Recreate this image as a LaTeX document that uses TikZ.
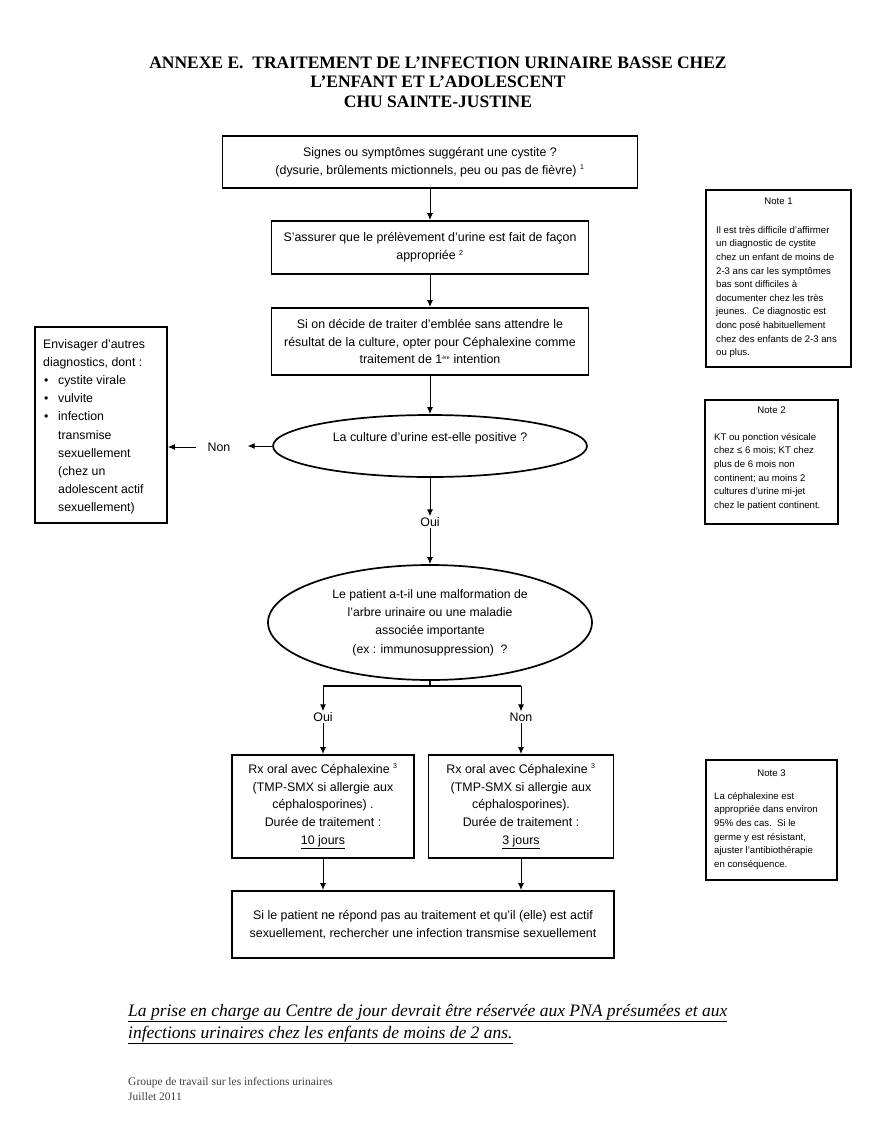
\documentclass[tikz,border=0pt]{standalone}
\usepackage{fontspec}
\setmainfont{Liberation Sans}
\newfontfamily\serifrm{Liberation Serif}
\usetikzlibrary{shapes.geometric,arrows.meta}
\tikzset{
  box/.style={draw, line width=1.9pt, align=center, inner sep=0pt, font=\fontsize{12.4}{17.8}\selectfont},
  note/.style={draw, line width=1.7pt, inner sep=0pt},
  notetxt/.style={align=left, inner sep=0pt, font=\fontsize{9.6}{13.6}\selectfont},
  oval/.style={draw, ellipse, line width=1.7pt, align=center, inner sep=0pt, font=\fontsize{12.2}{18.3}\selectfont},
  arr/.style={line width=1pt, -{Latex[length=7pt,width=6pt]}},
  ln/.style={line width=1.3pt},
  lbl/.style={font=\fontsize{12.4}{14}\selectfont, inner sep=1pt}
}
\begin{document}
\begin{tikzpicture}[x=1pt,y=-1pt]
\useasboundingbox (0,0) rectangle (888,1125);
% title
\node[font=\serifrm\bfseries\fontsize{17.5}{19.6}\selectfont, align=center] (title) at (438,82)
 {ANNEXE E.\ \ TRAITEMENT DE L’INFECTION URINAIRE BASSE CHEZ\\L’ENFANT ET L’ADOLESCENT\\CHU SAINTE-JUSTINE};
% boxes
\node[box, minimum width=415, minimum height=52] (b1) at (430,162)
 {Signes ou symptômes suggérant une cystite ?\\(dysurie, brûlements mictionnels, peu ou pas de fièvre) \textsuperscript{\scriptsize 1}};
\node[box, minimum width=317, minimum height=53] (b2) at (430,247.5)
 {S’assurer que le prélèvement d’urine est fait de façon\\appropriée \textsuperscript{\scriptsize 2}};
\node[box, minimum width=317, minimum height=67] (b3) at (430,341.5)
 {Si on décide de traiter d’emblée sans attendre le\\résultat de la culture, opter pour Céphalexine comme\\traitement de 1\textsuperscript{\tiny ère} intention};
\node[oval, minimum width=314, minimum height=62] (e1) at (430,446) {};
\node[lbl] (e1t) at (430,438) {La culture d’urine est-elle positive ?};
\node[lbl] (non1) at (219,447) {Non};
\node[draw, line width=1.7pt, inner sep=0pt, minimum width=132, minimum height=196] (left) at (101,425) {};
\node[anchor=north west, align=left, inner sep=0pt, font=\fontsize{12.3}{18.2}\selectfont] (lefttxt) at (43,339)
 {Envisager d’autres\\diagnostics, dont :\\
 \makebox[15pt][l]{\hspace{1pt}\textbullet}cystite virale\\
 \makebox[15pt][l]{\hspace{1pt}\textbullet}vulvite\\
 \makebox[15pt][l]{\hspace{1pt}\textbullet}infection\\
 \hspace*{15pt}transmise\\
 \hspace*{15pt}sexuellement\\
 \hspace*{15pt}(chez un\\
 \hspace*{15pt}adolescent actif\\
 \hspace*{15pt}sexuellement)};
\node[lbl] (oui1) at (430,522) {Oui};
\node[oval, minimum width=324, minimum height=115] (e2) at (430,622.5)
 {Le patient a-t-il une malformation de\\l’arbre urinaire ou une maladie\\associée importante\\(ex : immunosuppression)\ \ ?};
\coordinate (split) at (430,686);
\coordinate (sl) at (323,686);
\coordinate (sr) at (521,686);
\node[lbl] (oui2) at (323,717) {Oui};
\node[lbl] (non2) at (521,717) {Non};
\node[box, minimum width=182, minimum height=103] (b4) at (323,806.5)
 {Rx oral avec Céphalexine \textsuperscript{\scriptsize 3}\\(TMP-SMX si allergie aux\\céphalosporines) .\\Durée de traitement :\\\underline{10 jours}};
\node[box, minimum width=185, minimum height=103] (b5) at (521,806.5)
 {Rx oral avec Céphalexine \textsuperscript{\scriptsize 3}\\(TMP-SMX si allergie aux\\céphalosporines).\\Durée de traitement :\\\underline{3 jours}};
\node[box, minimum width=382, minimum height=67] (b6) at (423,924.5)
 {Si le patient ne répond pas au traitement et qu’il (elle) est actif\\sexuellement, rechercher une infection transmise sexuellement};
% notes
\node[note, minimum width=145, minimum height=177] (n1) at (778.5,278.5) {};
\node[notetxt] (n1t) at (778.5,201) {Note 1};
\node[notetxt, anchor=north west] (n1b) at (716,226)
 {Il est très difficile d’affirmer\\un diagnostic de cystite\\chez un enfant de moins de\\2-3 ans car les symptômes\\bas sont difficiles à\\documenter chez les très\\jeunes.\ \ Ce diagnostic est\\donc posé habituellement\\chez des enfants de 2-3 ans\\ou plus.};
\node[note, minimum width=133, minimum height=124] (n2) at (771.5,462) {};
\node[notetxt] (n2t) at (771.5,410) {Note 2};
\node[notetxt, anchor=north west] (n2b) at (714,433)
 {KT ou ponction vésicale\\chez ≤ 6 mois; KT chez\\plus de 6 mois non\\continent; au moins 2\\cultures d’urine mi-jet\\chez le patient continent.};
\node[note, minimum width=131, minimum height=120] (n3) at (771.5,820) {};
\node[notetxt] (n3t) at (771.5,773) {Note 3};
\node[notetxt, anchor=north west] (n3b) at (714,792)
 {La céphalexine est\\appropriée dans environ\\95\% des cas.\ \ Si le\\germe y est résistant,\\ajuster l’antibiothérapie\\en conséquence.};
% connectors
\draw[arr] (b1.south) -- (b2.north);
\draw[arr] (b2.south) -- (b3.north);
\draw[arr] (b3.south) -- (e1.north);
\draw[arr, shorten >=16pt] (e1.west) -- (e1.west -| non1.east);
\draw[arr, shorten <=10pt] (non1.west) -- (non1.west -| left.east);
\draw[arr] (e1.south) -- (oui1.north);
\draw[arr] (oui1.south) -- (e2.north);
\draw[ln] (e2.south) -- (split);
\draw[ln] (sl) -- (sr);
\draw[arr] (sl) -- (oui2.north);
\draw[arr] (sr) -- (non2.north);
\draw[arr] (oui2.south) -- (b4.north);
\draw[arr] (non2.south) -- (b5.north);
\draw[arr] (b4.south) -- (b4.south |- b6.north);
\draw[arr] (b5.south) -- (b5.south |- b6.north);
% bottom text
\node[anchor=west, inner sep=0pt, font=\serifrm\itshape\fontsize{17.5}{22}\selectfont] (bot1) at (128,1013)
 {\underline{La prise en charge au Centre de jour devrait être réservée aux PNA présumées et aux}};
\node[anchor=west, inner sep=0pt, font=\serifrm\itshape\fontsize{17.5}{22}\selectfont] (bot2) at (128,1035)
 {\underline{infections urinaires chez les enfants de moins de 2 ans.}};
\node[anchor=west, inner sep=0pt, font=\serifrm\fontsize{11.5}{13}\selectfont, text=black!75] (foot1) at (128,1083)
 {Groupe de travail sur les infections urinaires};
\node[anchor=west, inner sep=0pt, font=\serifrm\fontsize{11.5}{13}\selectfont, text=black!75] (foot2) at (128,1097)
 {Juillet 2011};
\end{tikzpicture}
\end{document}
